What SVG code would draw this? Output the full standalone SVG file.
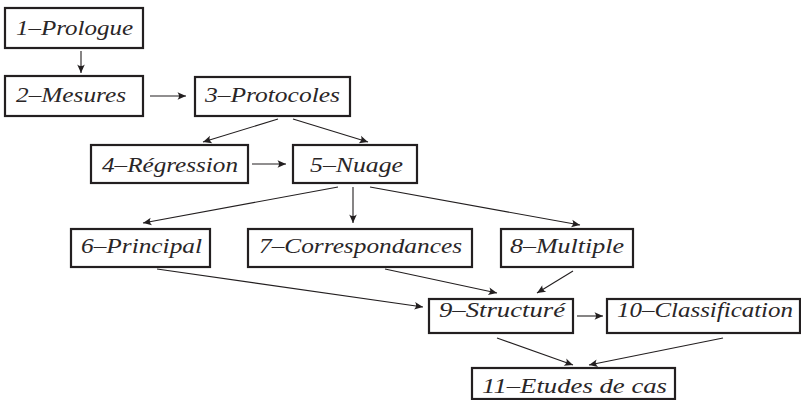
<svg xmlns="http://www.w3.org/2000/svg" width="801" height="400" viewBox="0 0 801 400">
<style>
.box{fill:#fff;stroke:#231f20;stroke-width:2.2}
.lbl{font-family:"Liberation Serif","DejaVu Serif",serif;font-style:italic;font-size:21.5px;fill:#2a2627}
.edge{stroke:#231f20;stroke-width:1.1;fill:none;marker-end:url(#ah)}
</style>
<defs>
<marker id="ah" viewBox="-10 -5 11 10" refX="0" refY="0" markerWidth="11" markerHeight="10" markerUnits="userSpaceOnUse" orient="auto">
<path d="M0,0 L-8.5,-3.8 Q-5.5,0 -8.5,3.8 Z" fill="#231f20"/>
</marker>
</defs>
<rect width="801" height="400" fill="#fff"/>
<g id="connectors">
<line class="edge" x1="81" y1="51" x2="81" y2="73"/>
<line class="edge" x1="150" y1="96" x2="186" y2="96"/>
<line class="edge" x1="278" y1="119" x2="203" y2="142"/>
<line class="edge" x1="293" y1="119" x2="368" y2="142"/>
<line class="edge" x1="252" y1="164" x2="286" y2="164"/>
<line class="edge" x1="338" y1="187" x2="143" y2="223"/>
<line class="edge" x1="353" y1="187" x2="353" y2="223"/>
<line class="edge" x1="370" y1="187" x2="580" y2="225"/>
<line class="edge" x1="157" y1="269" x2="423" y2="307"/>
<line class="edge" x1="385" y1="269" x2="497" y2="293"/>
<line class="edge" x1="573" y1="271" x2="537" y2="293"/>
<line class="edge" x1="577" y1="316" x2="603" y2="316"/>
<line class="edge" x1="497" y1="338" x2="573" y2="365"/>
<line class="edge" x1="723" y1="338" x2="589" y2="365"/>
</g>
<g id="n1"><rect class="box" x="5" y="8" width="138" height="40"/><text class="lbl" x="16" y="35" textLength="117" lengthAdjust="spacingAndGlyphs">1–Prologue</text></g>
<g id="n2"><rect class="box" x="5" y="76" width="138" height="40"/><text class="lbl" x="16" y="102" textLength="110" lengthAdjust="spacingAndGlyphs">2–Mesures</text></g>
<g id="n3"><rect class="box" x="195" y="77" width="155" height="39"/><text class="lbl" x="205" y="102" textLength="135" lengthAdjust="spacingAndGlyphs">3–Protocoles</text></g>
<g id="n4"><rect class="box" x="91" y="145" width="157" height="38"/><text class="lbl" x="102" y="172" textLength="136" lengthAdjust="spacingAndGlyphs">4–Régression</text></g>
<g id="n5"><rect class="box" x="293" y="145" width="124" height="38"/><text class="lbl" x="310" y="172" textLength="93" lengthAdjust="spacingAndGlyphs">5–Nuage</text></g>
<g id="n6"><rect class="box" x="71" y="229" width="139" height="38"/><text class="lbl" x="81" y="253" textLength="121" lengthAdjust="spacingAndGlyphs">6–Principal</text></g>
<g id="n7"><rect class="box" x="248" y="229" width="224" height="38"/><text class="lbl" x="259" y="253" textLength="203" lengthAdjust="spacingAndGlyphs">7–Correspondances</text></g>
<g id="n8"><rect class="box" x="501" y="229" width="132" height="38"/><text class="lbl" x="510" y="253" textLength="114" lengthAdjust="spacingAndGlyphs">8–Multiple</text></g>
<g id="n9"><rect class="box" x="429" y="299" width="144" height="34"/><text class="lbl" x="439" y="317" textLength="126" lengthAdjust="spacingAndGlyphs">9–Structuré</text></g>
<g id="n10"><rect class="box" x="607" y="299" width="193" height="34"/><text class="lbl" x="617" y="317" textLength="176" lengthAdjust="spacingAndGlyphs">10–Classification</text></g>
<g id="n11"><rect class="box" x="472" y="368" width="203" height="31"/><text class="lbl" x="482" y="393" textLength="185" lengthAdjust="spacingAndGlyphs">11–Etudes de cas</text></g>
</svg>
